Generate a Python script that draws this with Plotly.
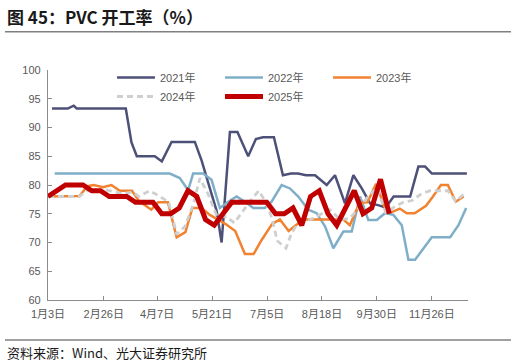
import plotly.graph_objects as go

# ---------------- data ----------------
tick_labels = ["1月3日", "2月26日", "4月7日", "5月21日", "7月5日", "8月18日", "9月30日", "11月26日"]
tick_pos = [0, 6.37, 12.47, 18.76, 25.05, 31.31, 37.57, 43.87]   # in weeks from 1月3日

x2021 = [0.46, 2.25, 2.94, 3.28, 8.89, 9.54, 10.15, 12.21, 13.01, 14.12, 16.78, 17.55, 18.5, 19.27,
         19.84, 20.79, 21.65, 22.88, 23.76, 24.56, 25.82, 26.85, 27.76, 28.57, 29.49, 30.52, 31.85,
         32.8, 33.94, 34.9, 35.86, 36.81, 37.72, 38.6, 39.5, 41.39, 42.33, 43.1, 43.87, 47.87]
y2021 = [93.3, 93.3, 93.8, 93.3, 93.3, 87.4, 85.0, 85.0, 84.1, 87.5, 87.5, 84.3, 79.4, 75.5,
         70.0, 89.2, 89.2, 85.0, 88.0, 88.3, 88.3, 81.7, 82.0, 82.0, 81.7, 81.7, 80.0,
         81.7, 76.8, 81.7, 79.4, 76.8, 76.5, 76.1, 78.0, 78.0, 83.2, 83.2, 82.0, 82.0]

x2022 = [0.76, 13.92, 15.06, 16.02, 16.59, 17.73, 18.69, 19.64, 20.6, 21.55, 22.5, 23.46, 24.79,
         25.55, 26.7, 27.65, 28.6, 29.75, 30.7, 31.66, 32.61, 33.75, 34.71, 35.66, 36.61, 37.57,
         38.52, 39.47, 40.43, 41.19, 41.95, 42.91, 43.86, 45.96, 46.91, 47.79]
y2022 = [82, 82, 81.2, 79.1, 82, 82, 80.9, 76, 77.1, 78, 77.1, 76, 76,
         77.1, 80, 79.4, 78, 75.7, 75.1, 72.8, 69, 71.9, 71.9, 78, 73.9, 73.9,
         75.1, 74.8, 73, 67, 67, 69, 70.9, 70.9, 73, 76]

x2023 = [0, 3.6, 4.5, 5.2, 6.3, 7.25, 8.2, 9.6, 10.4, 11.8, 12.6, 13.7, 14.7, 15.7, 16.5, 17.55,
         18.5, 19.45, 20.3, 21.4, 22.5, 23.5, 24.4, 25.6, 26.5, 27.5, 28.5, 29.4, 33.75, 34.5,
         35.6, 36.5, 37.5, 38.5, 39.3, 40.2, 41.0, 41.9, 43.2, 44.0, 44.9, 45.7, 46.6, 47.5]
y2023 = [78, 78.1, 79.8, 80, 79.6, 80, 79, 79, 77.2, 75.7, 77, 77, 70.9, 71.8, 76, 76,
         74.8, 73.9, 73.2, 72, 68, 68, 70.4, 73.2, 74, 72, 73.2, 74, 74, 73,
         76.9, 77, 80.2, 76, 75.3, 75.9, 75.1, 75.1, 76.4, 78, 80, 80, 77.1, 78]

x2024 = [0, 3.6, 4.4, 6.75, 8.5, 9.6, 10.4, 11.6, 12.8, 13.8, 14.7, 15.65, 16.6, 17.36, 18.3,
         19.3, 20.4, 21.3, 22.2, 23.2, 24.1, 24.9, 25.6, 26.2, 27.2, 27.8, 28.4, 29.2, 30.0,
         31.1, 32.2, 33.4, 34.5, 35.66, 36.6, 37.6, 38.6, 39.6, 40.6, 41.6, 42.7, 43.7, 45.7,
         46.6, 47.6]
y2024 = [78, 78, 79, 79.1, 78.5, 78.8, 78, 79, 78, 77, 71.4, 72.8, 76.6, 81.2, 78.4,
         74.6, 74.5, 73.4, 75.3, 77.4, 79, 77, 74.2, 70.3, 69, 71.5, 73, 73.6, 74,
         74.8, 75.7, 74, 74.2, 76.2, 78, 79.5, 75.2, 76.2, 77, 77.3, 78.5, 79, 79,
         77.2, 78.5]

x2025 = list(range(40))   # weekly points
y2025 = [78, 79, 80, 80, 80, 79, 79, 78, 78, 78, 77, 77, 77, 75, 75, 76, 79, 78, 74, 73,
         75, 77, 77, 77, 77, 77, 75, 75, 76, 73, 78, 79, 75, 73, 76, 79, 75, 76, 81, 75]

series = [
    ("2021年", x2021, y2021, "#4d5077", 2.5, "solid"),
    ("2022年", x2022, y2022, "#7fafc8", 2.5, "solid"),
    ("2023年", x2023, y2023, "#f08230", 2.5, "solid"),
    ("2024年", x2024, y2024, "#cfcfcf", 2.8, "6px,4px"),
    ("2025年", x2025, y2025, "#c00000", 5, "solid"),
]

# ---------------- figure ----------------
W, H = 516, 364
ML, MR, MT, MB = 48, 48, 70, 64
PW, PH = W - ML - MR, H - MT - MB

def px_x(px):
    return (px - ML) / PW

def px_y(py):
    return (H - MB - py) / PH

FONT = "Liberation Sans, Arial, Noto Sans CJK SC, sans-serif"
CJK = "Noto Sans CJK SC, sans-serif"
AXIS = "#8c8c8c"
TXT = "#595959"

fig = go.Figure()
for name, xs, ys, col, wd, dash in series:
    fig.add_trace(go.Scatter(x=xs, y=ys, name=name, mode="lines",
                             line=dict(color=col, width=wd, dash=dash)))

fig.update_layout(
    width=W, height=H,
    margin=dict(l=ML, r=MR, t=MT, b=MB, autoexpand=False),
    paper_bgcolor="white", plot_bgcolor="white",
    font=dict(family=FONT, size=11, color=TXT),
    showlegend=True,
    legend=dict(orientation="h", xref="container", yref="container",
                x=112 / W, y=1 - 63 / H, xanchor="left", yanchor="top",
                entrywidth=55, entrywidthmode="pixels", bgcolor="rgba(0,0,0,0)",
                font=dict(family=FONT, size=11, color=TXT), itemwidth=38,
                traceorder="normal"),
    xaxis=dict(range=[0, 48], tickvals=tick_pos, ticktext=tick_labels,
               showline=True, linecolor=AXIS, linewidth=1.3, ticks="inside", ticklen=4,
               tickcolor=AXIS, tickwidth=1, showgrid=False, zeroline=False,
               tickfont=dict(family=FONT, size=11, color=TXT), ticklabelstandoff=4),
    yaxis=dict(range=[60, 100], dtick=5, tick0=60,
               showline=True, linecolor=AXIS, linewidth=1.3, ticks="inside", ticklen=4,
               tickcolor=AXIS, tickwidth=1, showgrid=False, zeroline=False,
               tickfont=dict(family=FONT, size=11, color=TXT), ticklabelstandoff=4),
)

# title, rules and source
fig.add_annotation(xref="paper", yref="paper", x=px_x(5), y=px_y(16), xanchor="left",
                   yanchor="middle", showarrow=False, text="<b>图 45：PVC 开工率（%）</b>",
                   font=dict(family=CJK, size=17, color="#1a1a1a"))
fig.add_shape(type="line", xref="paper", yref="paper", x0=px_x(5), x1=px_x(511),
              y0=px_y(31.7), y1=px_y(31.7), line=dict(color="#808080", width=1.5))
fig.add_shape(type="line", xref="paper", yref="paper", x0=px_x(5), x1=px_x(511),
              y0=px_y(340), y1=px_y(340), line=dict(color="#808080", width=1.5))
fig.add_annotation(xref="paper", yref="paper", x=px_x(5), y=px_y(352), xanchor="left",
                   yanchor="middle", showarrow=False, text="资料来源：Wind、光大证券研究所",
                   font=dict(family=CJK, size=13, color="#1a1a1a"))

fig.write_html("out.html", config={"displayModeBar": False},
               post_script="document.body.style.margin='0';document.body.style.overflow='hidden';")
